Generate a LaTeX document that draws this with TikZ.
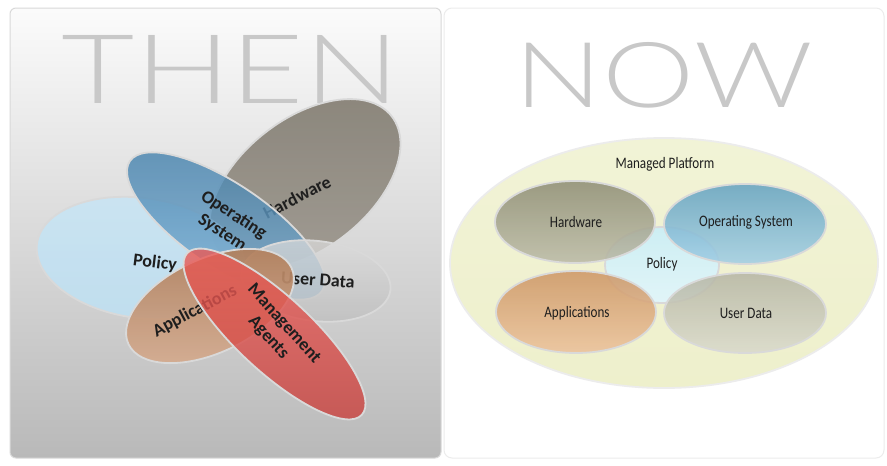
\documentclass[tikz,border=0pt]{standalone}
\usepackage{fontspec}
\setmainfont{Carlito}
\newfontfamily\thinfont{Lato Light}
\newfontfamily\condfont{Carlito}[FakeStretch=0.82]
\usetikzlibrary{shapes.geometric}
\definecolor{txt}{HTML}{1E1E1E}
\definecolor{bigtxt}{HTML}{C8C8C8}
\definecolor{lhw}{HTML}{8D877C}
\definecolor{los}{HTML}{4B94C8}
\definecolor{lpol}{HTML}{BFE0F2}
\definecolor{lud}{HTML}{D4D4D4}
\definecolor{lapp}{HTML}{C48A62}
\definecolor{lred}{HTML}{EA4A45}
\definecolor{rbig}{HTML}{EEF0CC}
\definecolor{rhw}{HTML}{9C9B80}
\definecolor{ros}{HTML}{6DB3D6}
\definecolor{rpol}{HTML}{CDEEF3}
\definecolor{rapp}{HTML}{E3A56E}
\definecolor{rud}{HTML}{C9C9B6}
\tikzset{
  ell/.style={ellipse, inner sep=0pt, draw=white!70!gray, line width=1.8pt},
  lbl/.style={inner sep=0pt, text=txt, font=\fontsize{18}{21}\selectfont\bfseries, align=center},
  rlbl/.style={inner sep=0pt, text=txt, font=\condfont\fontsize{16}{18}\selectfont},
  big/.style={inner sep=0pt, text=bigtxt}
}
\begin{document}
\begin{tikzpicture}[x=1pt,y=-1pt]
\useasboundingbox (0,0) rectangle (887,466);
\fill[white] (0,0) rectangle (887,466);
% panels
\path[top color=white!97!gray, bottom color=white!45!gray, draw=white!70!gray, line width=1pt, rounded corners=6pt] (10,8) rectangle (441,458);
\path[fill=white, draw=white!85!gray, line width=1pt, rounded corners=8pt] (444,8) rectangle (884,458);
% titles
\node[big] (then) at (231,69) {\resizebox{338pt}{68pt}{\thinfont THEN}};
\node[big] (now) at (664,75) {\resizebox{298pt}{65pt}{\thinfont NOW}};

% ---------- THEN ----------
\node[ell, minimum width=220pt, minimum height=130pt, rotate=38, top color=lhw!95!black, bottom color=lhw!85!white, fill opacity=0.95] (lhwE) at (305,184) {};
\node[lbl, rotate=27] (lhwT) at (297,197) {Hardware};
\node[ell, minimum width=210pt, minimum height=120pt, rotate=-8, top color=lpol!85!white, bottom color=lpol, fill opacity=0.9] (lpolE) at (141,258) {};
\node[lbl, rotate=-7] (lpolT) at (155,263) {Policy};
\node[ell, minimum width=232pt, minimum height=84pt, rotate=-34, top color=los!85!black, bottom color=los!70!white, fill opacity=0.8] (losE) at (226,226) {};
\node[lbl, rotate=-33] (losT) at (228,224) {Operating\\System};
\node[ell, minimum width=150pt, minimum height=80pt, rotate=-7, top color=lud!80!white, bottom color=lud!90!black, fill opacity=0.75] (ludE) at (316,281) {};
\node[lbl, rotate=-4] (ludT) at (318,280) {User Data};
\node[ell, minimum width=180pt, minimum height=94pt, rotate=25, top color=lapp!90!black, bottom color=lapp!70!white, fill opacity=0.92] (lappE) at (210,306) {};
\node[lbl, rotate=28] (lappT) at (195,311) {Applications};
\node[ell, minimum width=238pt, minimum height=75pt, rotate=-42.8, top color=lred!90!white, bottom color=lred!85!black, fill opacity=0.8] (lredE) at (274.5,334) {};
\node[lbl, rotate=-48] (lredT) at (276,331) {Management\\Agents};

% ---------- NOW ----------
\node[ell, minimum width=428pt, minimum height=250pt, draw=white!85!gray, top color=rbig!80!white, bottom color=rbig] (rbigE) at (664,263) {};
\node[rlbl] (rbigT) at (665,164) {Managed Platform};
\node[ell, minimum width=114pt, minimum height=76pt, top color=rpol, bottom color=rpol!60!white] (rpolE) at (662,265) {};
\node[ell, minimum width=160pt, minimum height=82pt, top color=rhw!90!black, bottom color=rhw!70!white, fill opacity=0.85] (rhwE) at (575,222) {};
\node[ell, minimum width=162pt, minimum height=80pt, top color=ros!90!black, bottom color=ros!65!white, fill opacity=0.85] (rosE) at (745,224) {};
\node[ell, minimum width=160pt, minimum height=82pt, top color=rapp!90!black, bottom color=rapp!70!white, fill opacity=0.85] (rappE) at (576,312) {};
\node[ell, minimum width=162pt, minimum height=80pt, top color=rud!90!black, bottom color=rud!70!white, fill opacity=0.85] (rudE) at (745,313) {};
\node[rlbl] (rpolT) at (662,264) {Policy};
\node[rlbl] (rhwT) at (576,222) {Hardware};
\node[rlbl] (rosT) at (746,222) {Operating System};
\node[rlbl] (rappT) at (577,313) {Applications};
\node[rlbl] (rudT) at (746,313) {User Data};
\end{tikzpicture}
\end{document}
